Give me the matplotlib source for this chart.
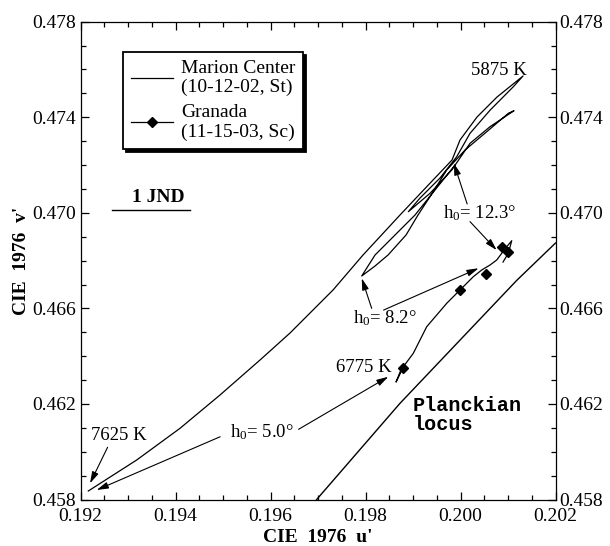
import matplotlib
matplotlib.use("Agg")
import matplotlib.pyplot as plt
from matplotlib.lines import Line2D
from matplotlib.ticker import MultipleLocator, FormatStrFormatter

plt.rcParams['font.family'] = 'Liberation Serif'
plt.rcParams['mathtext.fontset'] = 'custom'
plt.rcParams['mathtext.rm'] = 'Liberation Serif'
plt.rcParams['mathtext.it'] = 'Liberation Serif:italic'

# Marion Center (10-12-02, St) trace: up to 5875 K, then loops back and forth
marion_u = [0.192164, 0.193183, 0.194095, 0.194937, 0.195779, 0.196411, 0.197316,
            0.197947, 0.198726, 0.199421, 0.199821, 0.199989, 0.200347, 0.200768,
            0.201316,
            0.201112, 0.200621, 0.200200, 0.199920, 0.199568, 0.199147, 0.198901,
            0.199358, 0.199815, 0.200200, 0.200621, 0.201126,
            0.201006, 0.200552, 0.200095, 0.199709, 0.199421, 0.199105, 0.198853,
            0.198474, 0.198200, 0.197920,
            0.198200, 0.198516, 0.199042, 0.199463, 0.199884]
marion_v = [0.458360, 0.459657, 0.460983, 0.462377, 0.463841, 0.464971, 0.466770,
            0.468234, 0.469908, 0.471372, 0.472209, 0.473046, 0.474008, 0.474845,
            0.475724,
            0.475276, 0.474293, 0.473326, 0.472347, 0.471456, 0.470619, 0.470046,
            0.470816, 0.471791, 0.472908, 0.473603, 0.474272,
            0.474163, 0.473393, 0.472628, 0.471791, 0.470870, 0.469908, 0.469071,
            0.468234, 0.467774, 0.467356,
            0.468234, 0.468862, 0.469908, 0.470954, 0.472000]

# Granada (11-15-03, Sc) trace and its marked samples
granada_u = [0.198726, 0.198642, 0.198705, 0.198796, 0.199006, 0.199112, 0.199288,
             0.199499, 0.199709, 0.199989, 0.200269, 0.200446, 0.200621, 0.200762,
             0.200867, 0.200973, 0.201078, 0.201006, 0.200895]
granada_v = [0.463335, 0.462916, 0.463167, 0.463561, 0.464121, 0.464540, 0.465234,
             0.465724, 0.466213, 0.466770, 0.467326, 0.467607, 0.467816, 0.468025,
             0.468305, 0.468582, 0.468833, 0.468305, 0.467941]
granada_mark_u = [0.19878, 0.19999, 0.20053, 0.20087, 0.20099]
granada_mark_v = [0.46352, 0.46677, 0.46743, 0.46858, 0.46835]

planck_u = [0.19697, 0.198726, 0.201183, 0.20200]
planck_v = [0.45800, 0.462029, 0.467172, 0.468736]

jnd_u = [0.19266, 0.19430]
jnd_v = [0.47011, 0.47011]

x_ticks = [0.192, 0.194, 0.196, 0.198, 0.200, 0.202]
y_ticks = [0.458, 0.462, 0.466, 0.470, 0.474, 0.478]

# (text, u, v) at text baseline
labels = [
    ('5875 K', 0.200815, 0.475766),
    ('7625 K', 0.192815, 0.460494),
    ('6775 K', 0.197973, 0.463351),
    (r'h$_0$= 5.0°', 0.195815, 0.460607),
    (r'h$_0$= 8.2°', 0.198411, 0.465377),
    (r'h$_0$= 12.3°', 0.200411, 0.469782),
]

# arrows: tail (u, v) -> head (u, v)
arrows = [
    ((0.19257, 0.46019), (0.19220, 0.45868)),
    ((0.19494, 0.46063), (0.19234, 0.45840)),
    ((0.19659, 0.46094), (0.19848, 0.46314)),
    ((0.19813, 0.46600), (0.19792, 0.46726)),
    ((0.19838, 0.46593), (0.20038, 0.46768)),
    ((0.20014, 0.47037), (0.19986, 0.47207)),
    ((0.20020, 0.46963), (0.20076, 0.46844)),
]

fig = plt.figure(figsize=(6.1, 5.46), dpi=100)
ax = fig.add_axes([0.132, 0.085, 0.7787, 0.8754])

ax.plot(marion_u, marion_v, color='k', lw=0.9)
ax.plot(granada_u, granada_v, color='k', lw=0.9)
ax.plot(granada_mark_u, granada_mark_v, 'D', color='k', ms=5.5, ls='none')
ax.plot(planck_u, planck_v, color='k', lw=1.0)
ax.plot(jnd_u, jnd_v, color='k', lw=1.0)

for txt, u, v in labels:
    ax.text(u, v, txt, ha='center', va='baseline', fontsize=13.5)

for (tu, tv), (hu, hv) in arrows:
    ax.annotate('', xy=(hu, hv), xytext=(tu, tv),
                arrowprops=dict(arrowstyle='-|>,head_length=0.7,head_width=0.2',
                                color='k', lw=0.8, shrinkA=0, shrinkB=0,
                                mutation_scale=10))

ax.text(0.193632, 0.47065, '1 JND', ha='center', va='center',
        fontsize=14, fontweight='bold')
ax.text(0.19900, 0.46235, 'Planckian\nlocus', ha='left', va='top',
        fontsize=14.5, fontweight='bold', family='Liberation Mono',
        linespacing=1.0)

h1 = Line2D([], [], color='k', lw=0.9)
h2 = Line2D([], [], color='k', lw=0.9, marker='D', ms=5.5)
leg = ax.legend([h1, h2], ['Marion Center\n(10-12-02, St)', 'Granada\n(11-15-03, Sc)'],
                loc='upper left', bbox_to_anchor=(0.089, 0.937), fontsize=14,
                fancybox=False, shadow={'color': 'k', 'alpha': 1},
                handlelength=2.2, handletextpad=0.4, borderpad=0.4,
                labelspacing=0.4, borderaxespad=0)
leg.get_frame().set_edgecolor('k')
leg.get_frame().set_linewidth(1.3)

ax.set_xlim(0.192, 0.202)
ax.set_ylim(0.458, 0.478)
ax.set_xticks(x_ticks)
ax.set_yticks(y_ticks)
ax.xaxis.set_minor_locator(MultipleLocator(0.0005))
ax.yaxis.set_minor_locator(MultipleLocator(0.001))
ax.xaxis.set_major_formatter(FormatStrFormatter('%.3f'))
ax.yaxis.set_major_formatter(FormatStrFormatter('%.3f'))
ax.tick_params(which='both', direction='in', top=True, right=True,
               labelright=True, width=0.9, labelsize=14)
ax.tick_params(which='major', length=5.8)
ax.tick_params(which='minor', length=3.6)
ax.tick_params(axis='x', pad=6)
ax.tick_params(axis='y', pad=3)
for s in ax.spines.values():
    s.set_linewidth(0.9)

ax.set_xlabel("CIE  1976  u'", fontsize=14, fontweight='bold', labelpad=3)
ax.set_ylabel("CIE  1976  v'", fontsize=14, fontweight='bold', labelpad=2)

fig.savefig('out.png', dpi=100)
